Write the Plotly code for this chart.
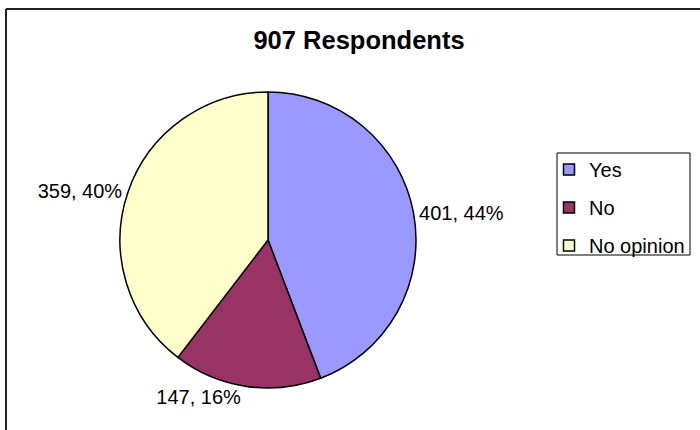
import plotly.graph_objects as go

labels = ["Yes", "No", "No opinion"]
values = [401, 147, 359]
colors = ["#9999FF", "#993366", "#FFFFCC"]
title_text = "907 Respondents"

W, H = 700, 430
FONT = "Liberation Sans, Arial, sans-serif"

fig = go.Figure()
fig.add_trace(go.Pie(
    labels=labels, values=values, sort=False, direction="clockwise", rotation=0,
    marker=dict(colors=colors, line=dict(color="black", width=1.5)),
    textposition="outside", texttemplate="%{value}, %{percent:.0%}",
    textfont=dict(family=FONT, size=20, color="black"),
    showlegend=False, hoverinfo="label+value+percent",
    domain=dict(x=[120 / W, 416 / W], y=[1 - 388 / H, 1 - 92 / H]),
))
for i, (lab, col) in enumerate(zip(labels, colors)):
    fig.add_trace(go.Scatter(
        x=[None], y=[None], mode="markers", name=lab, legendgroup=lab,
        marker=dict(symbol="square", size=11, color=col, line=dict(color="black", width=1.5)),
        showlegend=True,
    ))

fig.update_layout(
    width=W, height=H, margin=dict(l=0, r=0, t=0, b=0),
    paper_bgcolor="white", plot_bgcolor="white",
    xaxis=dict(visible=False), yaxis=dict(visible=False),
    title=dict(text="<b>" + title_text + "</b>", x=359 / W, xanchor="center",
               y=1 - 40 / H, yanchor="middle", xref="paper", yref="paper",
               font=dict(family=FONT, size=25.5, color="black")),
    legend=dict(x=549 / W, xanchor="left", y=1 - 150 / H, yanchor="top",
                borderwidth=0, bgcolor="rgba(0,0,0,0)",
                font=dict(family=FONT, size=20, color="black"),
                tracegroupgap=9, itemwidth=30),
    shapes=[
        dict(type="line", xref="paper", yref="paper", x0=6 / W, x1=1.01, y0=1 - 9 / H, y1=1 - 9 / H,
             line=dict(color="#222222", width=2)),
        dict(type="line", xref="paper", yref="paper", x0=6 / W, x1=6 / W, y0=-0.01, y1=1 - 9 / H,
             line=dict(color="#222222", width=2)),
        dict(type="rect", xref="paper", yref="paper", x0=557 / W, x1=690 / W,
             y0=1 - 255 / H, y1=1 - 153 / H, line=dict(color="black", width=1),
             fillcolor="rgba(0,0,0,0)", layer="below"),
    ],
)
fig.write_html("out.html", config={"displayModeBar": False},
               post_script="document.body.style.margin='0';document.body.style.overflow='hidden';")
